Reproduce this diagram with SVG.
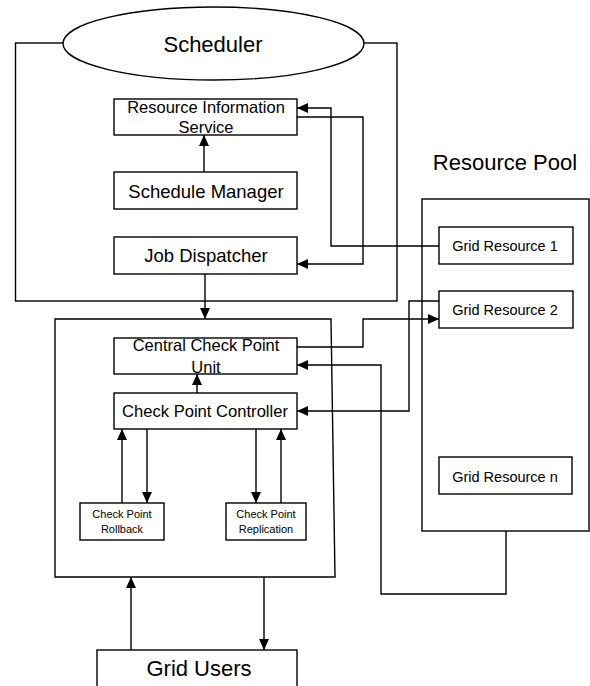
<svg xmlns="http://www.w3.org/2000/svg" width="590" height="686" viewBox="0 0 590 686">
<style>
.b{fill:#fff;stroke:#000;stroke-width:1.4}
.c{fill:none;stroke:#000;stroke-width:1.4}
text{font-family:"Liberation Sans",Arial,sans-serif;fill:#000;text-anchor:middle}
</style>
<defs>
<marker id="a" markerUnits="userSpaceOnUse" markerWidth="12" markerHeight="12" viewBox="0 0 12 12" refX="11" refY="6" orient="auto">
<path d="M0,1 L11,6 L0,11 Z" fill="#000"/>
</marker>
</defs>
<rect width="590" height="686" fill="#fff"/>
<g id="scheduler">
<rect class="b" x="15.5" y="43" width="381.5" height="258"/>
<ellipse class="b" cx="213.5" cy="43.5" rx="150.5" ry="36.5"/>
<text x="213" y="52" font-size="22">Scheduler</text>
</g>
<g id="ris">
<rect class="b" x="114" y="99" width="183" height="36"/>
<text x="206" y="113" font-size="16.5">Resource Information</text>
<text x="206" y="133" font-size="16.5">Service</text>
</g>
<g id="schedule-manager">
<rect class="b" x="114" y="172" width="183" height="37"/>
<text x="206" y="198" font-size="18.5">Schedule Manager</text>
</g>
<g id="job-dispatcher">
<rect class="b" x="114" y="237" width="183" height="37"/>
<text x="206" y="262" font-size="18.5">Job Dispatcher</text>
</g>
<g id="resource-pool">
<text x="505" y="170" font-size="22">Resource Pool</text>
<rect class="b" x="422" y="199" width="167" height="332"/>
</g>
<g id="gr1">
<rect class="b" x="439" y="227" width="134" height="37"/>
<text x="505" y="251" font-size="14.5">Grid Resource 1</text>
</g>
<g id="gr2">
<rect class="b" x="439" y="291" width="134" height="37"/>
<text x="505" y="315" font-size="14.5">Grid Resource 2</text>
</g>
<g id="grn">
<rect class="b" x="439" y="457" width="133" height="37"/>
<text x="505" y="482" font-size="14.5">Grid Resource n</text>
</g>
<g id="checkpoint">
<path class="b" d="M55,319 L331,319 L335,577 L55,577 Z"/>
</g>
<g id="ccpu">
<rect class="b" x="114" y="338" width="183" height="36"/>
<text x="206" y="351" font-size="16.5">Central Check Point</text>
<text x="206" y="373" font-size="16.5">Unit</text>
</g>
<g id="cpc">
<rect class="b" x="114" y="393" width="183" height="36"/>
<text x="205" y="417" font-size="16.6">Check Point Controller</text>
</g>
<g id="rollback">
<rect class="b" x="80" y="503" width="84" height="37"/>
<text x="122" y="518" font-size="11">Check Point</text>
<text x="122" y="533" font-size="11">Rollback</text>
</g>
<g id="replication">
<rect class="b" x="226" y="503" width="80" height="37"/>
<text x="266" y="518" font-size="11">Check Point</text>
<text x="266" y="533" font-size="11">Replication</text>
</g>
<g id="grid-users">
<rect class="b" x="97" y="650" width="200" height="40"/>
<text x="199" y="676" font-size="22">Grid Users</text>
</g>
<g id="connectors">
<path class="c" d="M204,172 L204,135" marker-end="url(#a)"/>
<path class="c" d="M439,246 L331,246 L331,108 L297,108" marker-end="url(#a)"/>
<path class="c" d="M297,117 L363,117 L363,264 L297,264" marker-end="url(#a)"/>
<path class="c" d="M205,274 L205,319" marker-end="url(#a)"/>
<path class="c" d="M297,347 L363,347 L363,319 L439,319" marker-end="url(#a)"/>
<path class="c" d="M439,301 L409,301 L409,411 L297,411" marker-end="url(#a)"/>
<path class="c" d="M506,531 L506,594 L381,594 L381,365 L297,365" marker-end="url(#a)"/>
<path class="c" d="M197,393 L197,374" marker-end="url(#a)"/>
<path class="c" d="M122,503 L122,429" marker-end="url(#a)"/>
<path class="c" d="M147,429 L147,503" marker-end="url(#a)"/>
<path class="c" d="M256,429 L256,503" marker-end="url(#a)"/>
<path class="c" d="M281,503 L281,429" marker-end="url(#a)"/>
<path class="c" d="M131,650 L131,577" marker-end="url(#a)"/>
<path class="c" d="M264,577 L264,650" marker-end="url(#a)"/>
</g>
</svg>
